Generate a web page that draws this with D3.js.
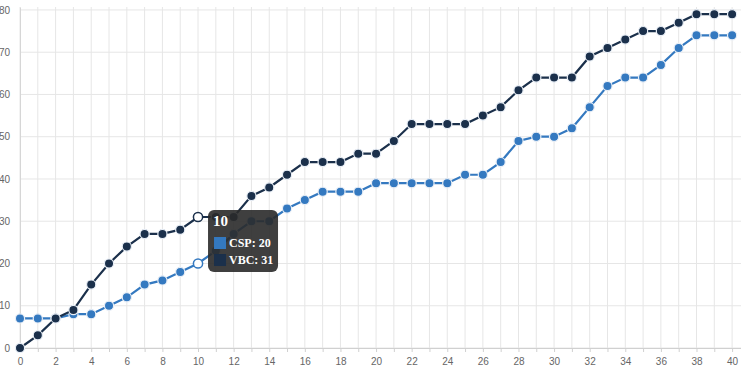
<!DOCTYPE html>
<html lang="en">
<head>
    <meta charset="utf-8">
    <title>CSP vs VBC</title>
    <script src="https://cdn.jsdelivr.net/npm/d3@7"></script>
    <style>
        body { margin: 0; background: #fff; }
        .tick text { font-family: "Liberation Sans", Arial, sans-serif; font-size: 10px; fill: #666; }
    </style>
</head>
<body>
<div id="chart"></div>
<script>
    // chart data
    const steps = [0, 1, 2, 3, 4, 5, 6, 7, 8, 9, 10, 11, 12, 13, 14, 15, 16, 17, 18, 19, 20,
                   21, 22, 23, 24, 25, 26, 27, 28, 29, 30, 31, 32, 33, 34, 35, 36, 37, 38, 39, 40];
    const csp = [7, 7, 7, 8, 8, 10, 12, 15, 16, 18, 20, 23, 27, 30, 30, 33, 35, 37, 37, 37, 39,
                 39, 39, 39, 39, 41, 41, 44, 49, 50, 50, 52, 57, 62, 64, 64, 67, 71, 74, 74, 74];
    const vbc = [0, 3, 7, 9, 15, 20, 24, 27, 27, 28, 31, 31, 31, 36, 38, 41, 44, 44, 44, 46, 46,
                 49, 53, 53, 53, 53, 55, 57, 61, 64, 64, 64, 69, 71, 73, 75, 75, 77, 79, 79, 79];
    const seriesNames = ["CSP", "VBC"];
    const seriesColors = ["#3479c0", "#1b304b"];
    const yTicks = [0, 10, 20, 30, 40, 50, 60, 70, 80];
    const hoverIndex = 10;

    const width = 741, height = 368;
    const margin = {top: 7, right: 0, bottom: 20, left: 20};

    const svg = d3.select("#chart")
        .append("svg")
            .attr("width", width)
            .attr("height", height);

    const x = d3.scaleLinear()
        .domain([0, 40.5])
        .range([margin.left, width - margin.right]);

    const y = d3.scaleLinear()
        .domain([0, 80.7])
        .range([height - margin.bottom, margin.top]);

    // vertical grid (every step)
    svg.append("g")
        .selectAll("line")
        .data(steps)
        .enter()
        .append("line")
            .attr("x1", d => x(d)).attr("x2", d => x(d))
            .attr("y1", y.range()[1]).attr("y2", y(0))
            .attr("stroke", "#e6e6e6");

    // horizontal grid
    svg.append("g")
        .selectAll("line")
        .data(yTicks)
        .enter()
        .append("line")
            .attr("x1", x.range()[0]).attr("x2", x.range()[1])
            .attr("y1", d => y(d)).attr("y2", d => y(d))
            .attr("stroke", "#e6e6e6");

    // x axis
    const xAxis = svg.append("g")
        .attr("transform", "translate(0," + y(0) + ")")
        .call(d3.axisBottom(x).tickValues(steps).tickSize(4).tickPadding(6)
            .tickFormat(d => d % 2 === 0 ? d : ""));
    xAxis.select(".domain").attr("stroke", "#d0d0d0");
    xAxis.selectAll(".tick line").attr("stroke", "#d0d0d0");

    // y axis
    const yAxis = svg.append("g")
        .attr("transform", "translate(" + x(0) + ",0)")
        .call(d3.axisLeft(y).tickValues(yTicks).tickSize(0).tickPadding(10));
    yAxis.select(".domain").attr("stroke", "#d6d6d6");

    // lines and points
    const series = [csp, vbc];
    series.forEach(function(values, s) {
        const line = d3.line()
            .x((d, i) => x(steps[i]))
            .y(d => y(d));

        svg.append("path")
            .datum(values)
            .attr("fill", "none")
            .attr("stroke", seriesColors[s])
            .attr("stroke-width", 2.2)
            .attr("d", line);

        svg.append("g")
            .selectAll("circle")
            .data(values)
            .enter()
            .append("circle")
                .attr("cx", (d, i) => x(steps[i]))
                .attr("cy", d => y(d))
                .attr("r", (d, i) => i === hoverIndex ? 4.6 : 4.6)
                .attr("fill", (d, i) => i === hoverIndex ? "#fff" : seriesColors[s])
                .attr("stroke", (d, i) => i === hoverIndex ? seriesColors[s] : "#e8eef6")
                .attr("stroke-width", (d, i) => i === hoverIndex ? 1.5 : 1.2);
    });

    // tooltip
    const tip = svg.append("g")
        .attr("transform", "translate(" + (x(hoverIndex) + 10) + "," + (y(vbc[hoverIndex]) - 7) + ")");

    tip.append("rect")
        .attr("width", 70)
        .attr("height", 62)
        .attr("rx", 6)
        .attr("fill", "#2a2a2a")
        .attr("fill-opacity", 0.9);

    tip.append("text")
        .attr("x", 5)
        .attr("y", 16)
        .attr("fill", "#fff")
        .style("font-family", "'Liberation Serif', 'Times New Roman', serif")
        .style("font-weight", "bold")
        .style("font-size", "15px")
        .text(steps[hoverIndex]);

    seriesNames.forEach(function(name, s) {
        const row = tip.append("g").attr("transform", "translate(6," + (27 + s * 17) + ")");
        row.append("rect")
            .attr("width", 12)
            .attr("height", 12)
            .attr("fill", seriesColors[s]);
        row.append("text")
            .attr("x", 15)
            .attr("y", 10)
            .attr("fill", "#fff")
            .style("font-family", "'Liberation Serif', 'Times New Roman', serif")
            .style("font-weight", "bold")
            .style("font-size", "12px")
            .text(name + ": " + series[s][hoverIndex]);
    });
</script>
</body>
</html>
